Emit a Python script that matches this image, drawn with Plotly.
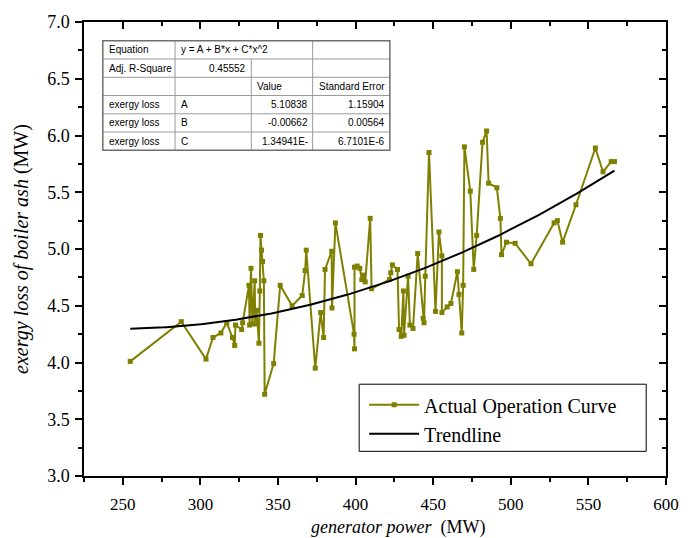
import numpy as np
import plotly.graph_objects as go

# Measured operating points: generator power (MW) vs exergy loss of boiler ash (MW)
power_mw = [
    254.8, 287.7, 303.6, 308.1, 313.2, 317.0, 320.7, 322.1, 322.6, 326.6,
    327.2, 331.3, 331.7, 332.6, 333.5, 335.0, 335.3, 336.2, 336.8, 337.7,
    338.3, 338.7, 339.4, 340.0, 340.9, 341.4, 347.2, 351.4, 359.1, 365.6,
    367.5, 368.2, 374.0, 377.5, 379.4, 380.3, 384.6, 384.8, 387.0, 399.0,
    399.3, 399.3, 401.0, 402.7, 404.0, 405.2, 406.2, 409.4, 410.3, 421.8,
    422.7, 423.7, 427.0, 428.0, 429.4, 430.8, 431.2, 433.8, 435.0, 437.0,
    440.0, 443.5, 444.1, 444.9, 447.3, 451.5, 453.7, 455.6, 455.6, 459.0,
    461.4, 465.6, 466.6, 468.4, 469.3, 470.1, 473.9, 476.1, 478.0, 481.8,
    484.4, 485.7, 491.0, 493.3, 494.0, 497.2, 502.8, 513.0, 527.9, 530.0,
    533.4, 542.0, 554.5, 559.4, 564.7, 566.8,
]
exergy_loss_mw = [
    4.01, 4.36, 4.03, 4.22, 4.26, 4.35, 4.22, 4.15, 4.33, 4.29,
    4.35, 4.68, 4.33, 4.83, 4.34, 4.72, 4.34, 4.46, 4.35, 4.17,
    4.63, 5.12, 4.99, 4.89, 4.72, 3.72, 3.99, 4.68, 4.50, 4.59,
    4.81, 4.99, 3.95, 4.44, 4.22, 4.82, 4.98, 4.48, 5.23, 4.25,
    4.12, 4.84, 4.85, 4.83, 4.73, 4.77, 4.71, 5.27, 4.65, 4.73,
    4.79, 4.86, 4.82, 4.29, 4.23, 4.63, 4.24, 4.76, 4.33, 4.30,
    4.96, 4.39, 4.35, 4.76, 5.85, 4.45, 5.15, 4.94, 4.44, 4.49,
    4.52, 4.80, 4.60, 4.26, 4.68, 5.90, 5.51, 4.82, 5.12, 5.94,
    6.04, 5.58, 5.54, 5.27, 4.95, 5.06, 5.05, 4.87, 5.23, 5.25,
    5.06, 5.39, 5.89, 5.68, 5.77, 5.77,
]

# Quadratic fit y = A + B*x + C*x^2
coef_a = 5.10838
coef_b = -0.00662
coef_c = 1.34941e-5

# Fit report table contents
table_row_labels = ["Equation", "Adj. R-Square", "", "exergy loss", "exergy loss", "exergy loss"]
table_col1 = ["y = A + B*x + C*x^2", "0.45552", "", "A", "B", "C"]
table_col2 = ["", "", "Value", "5.10838", "-0.00662", "1.34941E-"]
table_col3 = ["", "", "Standard Error", "1.15904", "0.00564", "6.7101E-6"]

x_ticks = [250, 300, 350, 400, 450, 500, 550, 600]
y_ticks = [3.0, 3.5, 4.0, 4.5, 5.0, 5.5, 6.0, 6.5, 7.0]

OLIVE = "#808000"
SERIF = "Liberation Serif, Times New Roman, serif"
SANS = "Liberation Sans, Arial, sans-serif"

W, H = 691, 538
L, R, T, B = 84, 672, 16, 476


def px_x(p):
    return (p - L) / (R - L)


def px_y(p):
    return (B - p) / (B - T)


fit_x = np.linspace(min(power_mw), max(power_mw), 200)
fit_y = coef_a + coef_b * fit_x + coef_c * fit_x ** 2

fig = go.Figure()
fig.add_trace(go.Scatter(
    x=power_mw, y=exergy_loss_mw, mode="lines+markers",
    name="Actual Operation Curve",
    line=dict(color=OLIVE, width=2),
    marker=dict(symbol="square", size=5, color=OLIVE),
))
fig.add_trace(go.Scatter(
    x=fit_x, y=fit_y, mode="lines", name="Trendline",
    line=dict(color="black", width=2),
))
# carrier for the mirrored top/right frame axes
fig.add_trace(go.Scatter(
    x=[None], y=[None], xaxis="x2", yaxis="y2",
    showlegend=False, hoverinfo="skip",
))

# ---- fit report table ----
col_edges = [103, 176, 253, 315, 393]
row_top, row_h = 35, 18.5
n_rows = len(table_row_labels)
row_edges = [row_top + i * row_h for i in range(n_rows + 1)]

shapes = []
grid_col = "#9a9a9a"
for i, y in enumerate(row_edges[1:-1]):
    shapes.append(dict(type="line", xref="paper", yref="paper",
                       x0=px_x(col_edges[0]), x1=px_x(col_edges[-1]),
                       y0=px_y(y), y1=px_y(y),
                       line=dict(color=grid_col, width=1)))
for ci, x in enumerate(col_edges[1:-1], start=1):
    for ri in range(n_rows):
        if ri == 0 and ci == 2:
            continue  # equation text spans two cells
        shapes.append(dict(type="line", xref="paper", yref="paper",
                           x0=px_x(x), x1=px_x(x),
                           y0=px_y(row_edges[ri]), y1=px_y(row_edges[ri + 1]),
                           line=dict(color=grid_col, width=1)))
shapes.append(dict(type="rect", xref="paper", yref="paper",
                   x0=px_x(col_edges[0]), x1=px_x(col_edges[-1]),
                   y0=px_y(row_edges[-1]), y1=px_y(row_edges[0]),
                   line=dict(color="#6e6e6e", width=1.5)))

# legend frame
shapes.append(dict(type="rect", xref="paper", yref="paper",
                   x0=px_x(362), x1=px_x(652), y0=px_y(451), y1=px_y(383),
                   line=dict(color="black", width=1), fillcolor="white",
                   layer="above"))

annotations = []


def cell_text(text, col, row, align):
    if not text:
        return
    yc = px_y(row_edges[row] + row_h / 2)
    if align == "left":
        x, anchor = px_x(col_edges[col] + 4), "left"
    else:
        x, anchor = px_x(col_edges[col + 1] - 3), "right"
    annotations.append(dict(text=text, xref="paper", yref="paper", x=x, y=yc,
                            xanchor=anchor, yanchor="middle", showarrow=False,
                            font=dict(family=SANS, size=10, color="black")))


for r in range(n_rows):
    cell_text(table_row_labels[r], 0, r, "left")
    cell_text(table_col1[r], 1, r, "right" if r == 1 else "left")
    cell_text(table_col2[r], 2, r, "left" if r == 2 else "right")
    cell_text(table_col3[r], 3, r, "left" if r == 2 else "right")

# x-axis title, set slightly right of the plot centre
annotations.append(dict(
    text="<i>generator power</i>  (MW)", xref="paper", yref="paper",
    x=px_x(401), y=px_y(528), xanchor="center", yanchor="middle",
    showarrow=False, font=dict(family=SERIF, size=18, color="black"),
))

axis_common = dict(
    showline=True, linecolor="black", linewidth=1.5,
    showgrid=False, zeroline=False,
    tickcolor="black", tickwidth=1.5, ticklen=7,
)

fig.update_layout(
    width=W, height=H,
    margin=dict(l=L, r=W - R, t=T, b=H - B),
    paper_bgcolor="white", plot_bgcolor="white",
    font=dict(family=SERIF, color="black"),
    xaxis=dict(
        range=[225, 600], tickvals=x_ticks, ticks="outside",
        tickfont=dict(family=SERIF, size=17), ticklabelstandoff=5,
        minor=dict(dtick=25, tick0=0, ticks="outside", ticklen=4,
                   tickcolor="black", tickwidth=1.5),
        **axis_common,
    ),
    yaxis=dict(
        range=[3.0, 7.0], tickvals=y_ticks, tickformat=".1f", ticks="outside",
        tickfont=dict(family=SERIF, size=18), ticklabelstandoff=2,
        minor=dict(dtick=0.25, tick0=0, ticks="outside", ticklen=4,
                   tickcolor="black", tickwidth=1.5),
        title=dict(text="<i>exergy loss of boiler ash</i> (MW)",
                   font=dict(family=SERIF, size=20), standoff=13),
        **axis_common,
    ),
    xaxis2=dict(
        overlaying="x", side="top", range=[225, 600], tickvals=x_ticks,
        ticks="inside", showticklabels=False,
        minor=dict(dtick=25, tick0=0, ticks="inside", ticklen=4,
                   tickcolor="black", tickwidth=1.5),
        **axis_common,
    ),
    yaxis2=dict(
        overlaying="y", side="right", range=[3.0, 7.0], tickvals=y_ticks,
        ticks="inside", showticklabels=False,
        minor=dict(dtick=0.25, tick0=0, ticks="inside", ticklen=4,
                   tickcolor="black", tickwidth=1.5),
        **axis_common,
    ),
    legend=dict(
        x=px_x(367), y=px_y(384), xanchor="left", yanchor="top",
        bgcolor="rgba(0,0,0,0)", borderwidth=0,
        font=dict(family=SERIF, size=20), itemwidth=50,
        tracegroupgap=0,
    ),
    shapes=shapes,
    annotations=annotations,
    showlegend=True,
)

fig.write_html("out.html")
